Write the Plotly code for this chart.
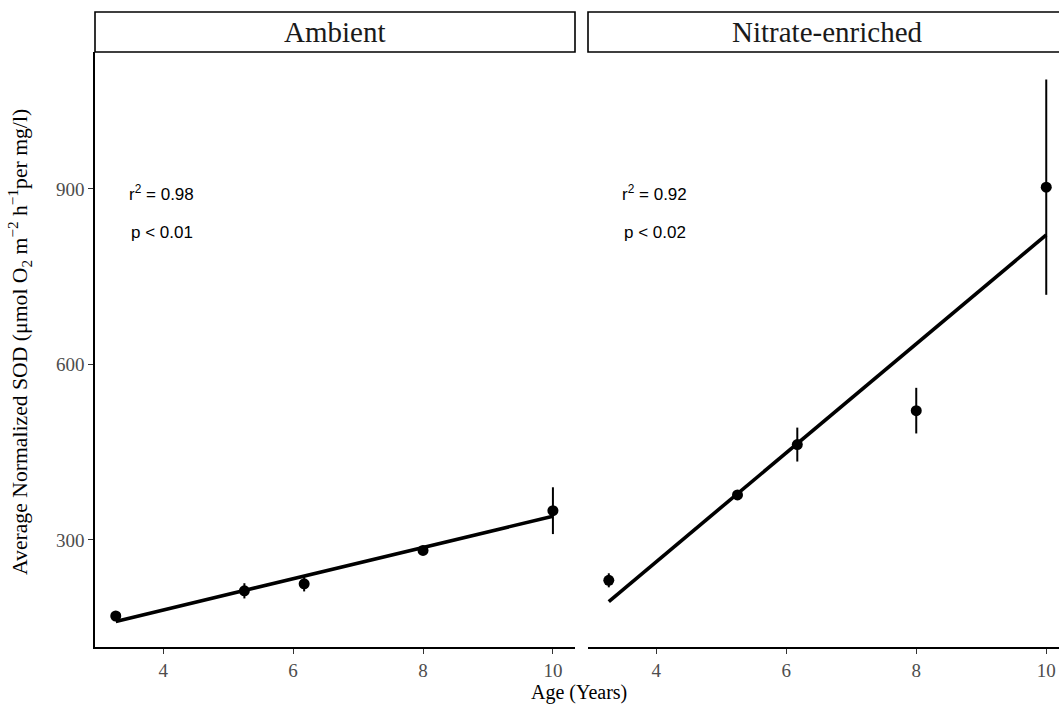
import numpy as np
import plotly.graph_objects as go

# ---- data ----
ages = [3.27, 5.25, 6.17, 8.0, 10.0]
ambient_sod = [170, 213, 225, 282, 350]
ambient_err = [6, 13, 13, 6, 40]
nitrate_sod = [231, 377, 463, 521, 903]
nitrate_err = [12, 6, 29, 39, 184]
panels = ["Ambient", "Nitrate-enriched"]
stats_r2 = ["0.98", "0.92"]
stats_p = ["0.01", "0.02"]
x_ticks = [4, 6, 8, 10]
y_ticks = [300, 600, 900]

W, H = 1059, 705
ML, MR, MT, MB = 95, 0, 52, 58
plot_w = W - ML - MR
plot_h = H - MT - MB

def px_x(p):
    return (p - ML) / plot_w

def px_y(p):
    return 1 - (p - MT) / plot_h

serif = "Liberation Serif, Times New Roman, serif"
sans = "Liberation Sans, Arial, sans-serif"

fig = go.Figure()

series = [(ambient_sod, ambient_err, "x", "y"), (nitrate_sod, nitrate_err, "x2", "y2")]
for vals, errs, xa, ya in series:
    coef = np.polyfit(ages, vals, 1)
    xfit = np.array([min(ages), max(ages)])
    yfit = np.polyval(coef, xfit)
    fig.add_trace(go.Scatter(x=xfit, y=yfit, mode="lines",
                             line=dict(color="black", width=3.6),
                             xaxis=xa, yaxis=ya, showlegend=False, hoverinfo="skip"))
    fig.add_trace(go.Scatter(x=ages, y=vals, mode="markers",
                             marker=dict(color="black", size=11),
                             error_y=dict(type="data", array=errs, color="black",
                                          thickness=2, width=0),
                             xaxis=xa, yaxis=ya, showlegend=False))

d1 = [0, px_x(575)]
d2 = [px_x(588), 1.0]
xr1 = [2.95, 10.34]
xr2 = [2.95, 2.95 + (W - 588) / 65.0]
yr = [117, 1134]

axis_common = dict(tickfont=dict(family=serif, size=19, color="#4d4d4d"),
                   ticks="outside", ticklen=5, tickwidth=1.3, tickcolor="#333333",
                   showgrid=False, zeroline=False)

fig.update_layout(
    width=W, height=H,
    margin=dict(l=ML, r=MR, t=MT, b=MB),
    plot_bgcolor="white", paper_bgcolor="white",
    xaxis=dict(domain=d1, range=xr1, tickvals=x_ticks, showline=True,
               linecolor="black", linewidth=1.5, anchor="y", **axis_common),
    xaxis2=dict(domain=d2, range=xr2, tickvals=x_ticks, showline=True,
                linecolor="black", linewidth=1.5, anchor="y2", **axis_common),
    yaxis=dict(domain=[0, 1], range=yr, tickvals=y_ticks, showline=True,
               linecolor="black", linewidth=1.5, anchor="x", **axis_common),
    yaxis2=dict(domain=[0, 1], range=yr, tickvals=y_ticks, showline=False,
                showticklabels=False, ticks="", showgrid=False, zeroline=False,
                anchor="x2", matches="y"),
)

# strips
strip_top = px_y(12)
strip_defs = [(px_x(95), px_x(575), panels[0]), (px_x(588), px_x(1067), panels[1])]
for x0, x1, label in strip_defs:
    fig.add_shape(type="rect", xref="paper", yref="paper", x0=x0, x1=x1,
                  y0=1.0, y1=strip_top, line=dict(color="black", width=1.6),
                  fillcolor="white", layer="below")
    fig.add_annotation(x=(x0 + x1) / 2, y=(1.0 + strip_top) / 2, xref="paper", yref="paper",
                       xanchor="center", yanchor="middle",
                       text=label, showarrow=False,
                       font=dict(family=serif, size=29, color="#1a1a1a"))

# stats annotations
for i, xa in enumerate(["x", "x2"]):
    fig.add_annotation(x=3.44, y=893, xref=xa, yref="y", xanchor="left", yanchor="middle",
                       text="r<sup>2</sup> = " + stats_r2[i], showarrow=False,
                       font=dict(family=sans, size=17, color="black"))
    fig.add_annotation(x=3.47, y=826, xref=xa, yref="y", xanchor="left", yanchor="middle",
                       text="p &lt; " + stats_p[i], showarrow=False,
                       font=dict(family=sans, size=17, color="black"))

# axis titles
fig.add_annotation(x=px_x(579), y=px_y(692), xref="paper", yref="paper",
                   xanchor="center", yanchor="middle",
                   text="Age (Years)", showarrow=False,
                   font=dict(family=serif, size=20, color="black"))
fig.add_annotation(x=px_x(19), y=px_y(342), xref="paper", yref="paper",
                   xanchor="center", yanchor="middle",
                   text="Average Normalized SOD (μmol O<sub>2</sub> m<sup>−2</sup> h<sup>−1</sup>per mg/l)",
                   textangle=-90, showarrow=False,
                   font=dict(family=serif, size=21.7, color="black"))

fig.write_html("out.html")
